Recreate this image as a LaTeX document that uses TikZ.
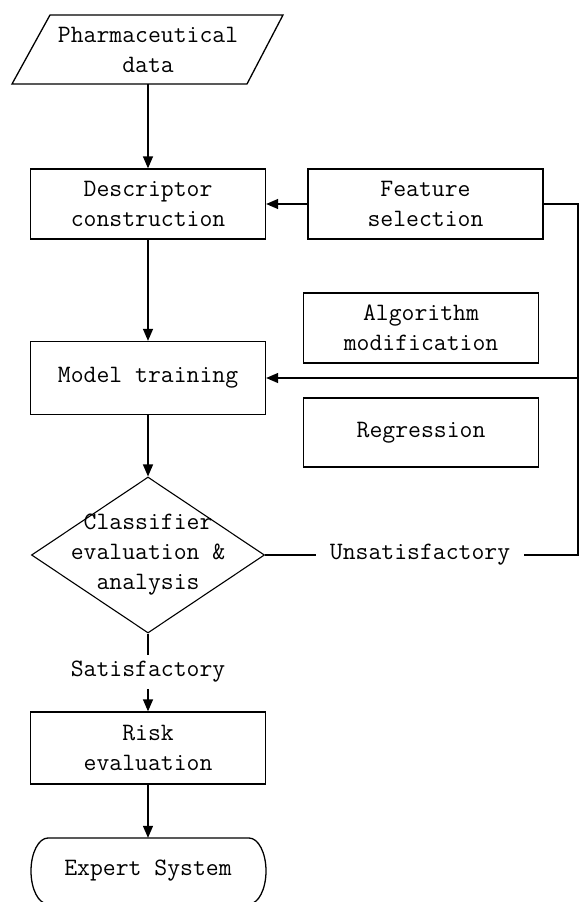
\documentclass[tikz,border=0pt]{standalone}
\usepackage{fontspec}
\usetikzlibrary{shapes.geometric,arrows.meta}
\begin{document}
\begin{tikzpicture}[x=1pt,y=-1pt,
  font=\ttfamily\fontsize{25}{30}\selectfont,
  ln/.style={line width=1.3pt},
  arr/.style={line width=1.3pt,-{Triangle[width=10pt,length=12pt]}},
  box/.style={draw,line width=1.3pt,align=center,inner sep=0pt,minimum width=235pt,minimum height=70pt},
  plain/.style={align=center,inner sep=0pt}]
\useasboundingbox (0,0) rectangle (580,902);
\fill[white] (0,0) rectangle (580,902);
% input parallelogram
\node[plain,minimum height=69pt] (pd) at (148,49.5) {Pharmaceutical\\data};
\draw[ln] (50,15) -- (283,15) -- (247,84) -- (12,84) -- cycle;
% boxes
\node[box] (dc) at (148,204) {Descriptor\\construction};
\node[box] (fs) at (425.5,204) {Feature\\selection};
\node[box] (am) at (421,328) {Algorithm\\modification};
\node[box,minimum height=73pt] (mt) at (148,378) {Model training};
\node[box,minimum height=69pt] (rg) at (421,432.5) {Regression};
% decision
\node[diamond,draw,line width=1.1pt,minimum width=233pt,minimum height=156pt,inner sep=0pt] (ce) at (148,555) {};
\node[plain] (cet) at (ce.center) {Classifier\\evaluation \&\\analysis};
\node[plain,inner xsep=14pt] (un) at (420,555) {Unsatisfactory};
\node[plain,inner ysep=6pt] (sat) at (148,672) {Satisfactory};
\node[box,minimum height=72pt] (re) at (148,748) {Risk\\evaluation};
% terminal
\node[plain,minimum width=235pt,minimum height=66pt] (es) at (148,871) {Expert System};
\draw[ln] (48,838) -- (249,838) arc[start angle=90,end angle=-90,x radius=17pt,y radius=33pt]
  -- (48,904) arc[start angle=270,end angle=90,x radius=17pt,y radius=33pt] -- cycle;
% connectors
\coordinate (r1) at (578,204);
\coordinate (r2) at (578,555);
\draw[arr] (pd.south) -- (dc.north);
\draw[arr] (fs.west) -- (dc.east);
\draw[arr] (dc.south) -- (mt.north);
\draw[ln] (fs.east) -- (r1) -- (r2) -- (un.east);
\draw[arr] (r1 |- mt.east) -- (mt.east);
\draw[arr] (mt.south) -- (ce.north);
\draw[ln] (ce.east) -- (un.west);
\draw[ln] (ce.south) -- (sat.north);
\draw[arr] (sat.south) -- (re.north);
\draw[arr] (re.south) -- (es.north);
\end{tikzpicture}
\end{document}
